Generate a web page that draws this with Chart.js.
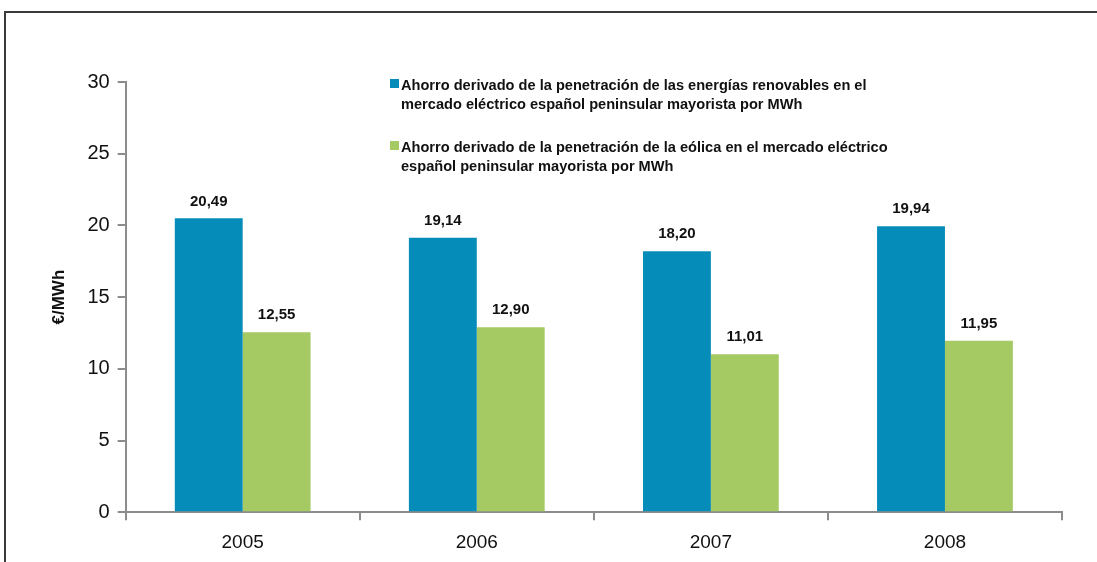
<!DOCTYPE html>
<html>
<head>
<meta charset="utf-8">
<script src="https://cdn.jsdelivr.net/npm/chart.js@4"></script>
<style>
  html, body { margin: 0; padding: 0; background: #fff; overflow: hidden; }
  #wrap { position: relative; width: 1097px; height: 562px; overflow: hidden; }
  #frame { position: absolute; left: 4px; top: 11px; width: 1200px; height: 600px;
           border-top: 2px solid #3a3a3a; border-left: 2px solid #3a3a3a; }
  #legend { position: absolute; left: 390px; top: 76px; font: bold 14.6px "Liberation Sans", Arial, sans-serif; color: #111; }
  .item { position: relative; padding-left: 11px; line-height: 18.5px; margin-bottom: 25px; }
  .box { position: absolute; left: 0; top: 3px; width: 9px; height: 9px; }
</style>
</head>
<body>
<div id="wrap">
  <div id="frame"></div>
  <canvas id="myChart" width="1097" height="565"></canvas>
  <div id="legend"></div>
</div>
<script>
const years = ['2005', '2006', '2007', '2008'];
const renovables = [20.49, 19.14, 18.20, 19.94];
const eolica = [12.55, 12.90, 11.01, 11.95];
const seriesNames = [
    ['Ahorro derivado de la penetración de las energías renovables en el', 'mercado eléctrico español peninsular mayorista por MWh'],
    ['Ahorro derivado de la penetración de la eólica en el mercado eléctrico', 'español peninsular mayorista por MWh']
];
const colors = ['#068cb8', '#a5c963'];
const yTicks = [0, 5, 10, 15, 20, 25, 30];

const FONT = '"Liberation Sans", Arial, sans-serif';

// labels above the bars, with comma decimals
const valueLabels = {
    id: 'valueLabels',
    afterDatasetsDraw(chart) {
        const ctx = chart.ctx;
        ctx.save();
        ctx.font = 'bold 15px ' + FONT;
        ctx.fillStyle = '#111';
        ctx.textAlign = 'center';
        ctx.textBaseline = 'middle';
        chart.data.datasets.forEach((ds, i) => {
            chart.getDatasetMeta(i).data.forEach((bar, j) => {
                ctx.fillText(ds.data[j].toFixed(2).replace('.', ','), bar.x, bar.y - 17);
            });
        });
        ctx.restore();
    }
};

const chart = new Chart(
    document.getElementById('myChart').getContext('2d'), {
        type: 'bar',
        data: {
            labels: years,
            datasets: [{
                label: seriesNames[0].join(' '),
                data: renovables,
                backgroundColor: colors[0]
            }, {
                label: seriesNames[1].join(' '),
                data: eolica,
                backgroundColor: colors[1]
            }]
        },
        options: {
            responsive: false,
            animation: false,
            events: [],
            categoryPercentage: 0.58,
            barPercentage: 1,
            layout: { padding: { left: 49, top: 82, right: 35, bottom: 0 } },
            plugins: {
                legend: { display: false },
                title: { display: false },
                tooltip: { enabled: false }
            },
            scales: {
                x: {
                    grid: { offset: true, drawOnChartArea: false, color: '#8c8c8c', lineWidth: 2, tickLength: 8 },
                    border: { color: '#8c8c8c', width: 2 },
                    ticks: { color: '#111', font: { family: FONT, size: 19 }, padding: 11 }
                },
                y: {
                    min: 0,
                    max: 30,
                    afterBuildTicks: (axis) => { axis.ticks = yTicks.map(v => ({ value: v })); },
                    grid: { drawOnChartArea: false, color: '#8c8c8c', lineWidth: 2, tickLength: 8 },
                    border: { color: '#8c8c8c', width: 2 },
                    ticks: { color: '#111', font: { family: FONT, size: 20 }, padding: 8 },
                    title: { display: true, text: '€/MWh', color: '#111', font: { family: FONT, size: 17, weight: 'bold' }, padding: { top: 0, bottom: 10 } }
                }
            }
        },
        plugins: [valueLabels]
    }
);

// legend built from the series
const legend = document.getElementById('legend');
chart.data.datasets.forEach((ds, i) => {
    const item = document.createElement('div');
    item.className = 'item';
    const box = document.createElement('span');
    box.className = 'box';
    box.style.background = ds.backgroundColor;
    item.appendChild(box);
    seriesNames[i].forEach(line => {
        const d = document.createElement('div');
        d.textContent = line;
        item.appendChild(d);
    });
    legend.appendChild(item);
});
</script>
</body>
</html>
